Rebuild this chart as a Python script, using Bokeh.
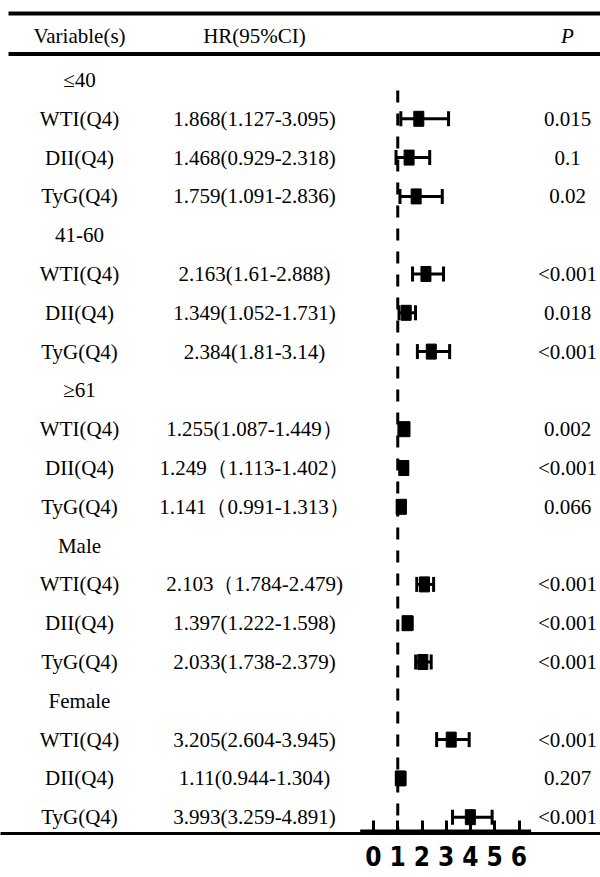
from bokeh.plotting import figure
from bokeh.models import Range1d, LinearAxis, FixedTicker, ColumnDataSource
from bokeh.core.properties import value
from bokeh.embed import file_html
from bokeh.resources import INLINE

# ---------------- data ----------------
groups = ["≤40", "41-60", "≥61", "Male", "Female"]
variables = ["WTI(Q4)", "DII(Q4)", "TyG(Q4)"]

hr = [1.868, 1.468, 1.759,
      2.163, 1.349, 2.384,
      1.255, 1.249, 1.141,
      2.103, 1.397, 2.033,
      3.205, 1.11, 3.993]
ci_low = [1.127, 0.929, 1.091,
          1.61, 1.052, 1.81,
          1.087, 1.113, 0.991,
          1.784, 1.222, 1.738,
          2.604, 0.944, 3.259]
ci_high = [3.095, 2.318, 2.836,
           2.888, 1.731, 3.14,
           1.449, 1.402, 1.313,
           2.479, 1.598, 2.379,
           3.945, 1.304, 4.891]
hr_text = ["1.868(1.127-3.095)", "1.468(0.929-2.318)", "1.759(1.091-2.836)",
           "2.163(1.61-2.888)", "1.349(1.052-1.731)", "2.384(1.81-3.14)",
           "1.255(1.087-1.449）", "1.249（1.113-1.402）", "1.141（0.991-1.313）",
           "2.103（1.784-2.479)", "1.397(1.222-1.598)", "2.033(1.738-2.379)",
           "3.205(2.604-3.945)", "1.11(0.944-1.304)", "3.993(3.259-4.891)"]
p_text = ["0.015", "0.1", "0.02",
          "<0.001", "0.018", "<0.001",
          "0.002", "<0.001", "0.066",
          "<0.001", "<0.001", "<0.001",
          "<0.001", "0.207", "<0.001"]
box_w = [10, 10, 10,
         10, 10, 10,
         12, 10, 10,
         10, 10, 10,
         10, 10, 10]
x_ticks = [0, 1, 2, 3, 4, 5, 6]

# ---------------- layout ----------------
W, H = 600, 877
AXIS_H = 44
FRAME_H = H - AXIS_H
ROW0, ROW_H = 79.5, 38.8
COL_VAR, COL_HR, COL_P = 79, 254, 567
HEAD_Y = 35
SERIF = value("Liberation Serif")
FS = "21px"

# row positions
group_y, var_y, var_lab = [], [], []
row = 0
for g in groups:
    group_y.append(ROW0 + ROW_H * row)
    row += 1
    for v in variables:
        var_y.append(ROW0 + ROW_H * row)
        var_lab.append(v)
        row += 1

p = figure(width=W, height=H, output_backend="svg", toolbar_location=None,
           x_range=Range1d(0, W), y_range=Range1d(FRAME_H, 0),
           x_axis_type=None, y_axis_type=None,
           min_border_left=0, min_border_right=0, min_border_top=0,
           min_border_bottom=AXIS_H)
p.outline_line_color = None
p.background_fill_color = "white"
p.border_fill_color = "white"

# HR scale: 0 at px 373, 24.25 px per unit
PX0, PXU = 373.0, 24.25
p.extra_x_ranges = {"hr": Range1d(-PX0 / PXU, (W - PX0) / PXU)}

# table rules
p.segment(x0=[8, 8], x1=[W, W], y0=[13, 53.5], y1=[13, 53.5],
          line_color="black", line_width=4)

# header
p.text(x=[COL_VAR, COL_HR], y=[HEAD_Y, HEAD_Y], text=["Variable(s)", "HR(95%CI)"],
       text_font=SERIF, text_font_size=FS, text_align="center",
       text_baseline="middle", text_color="black")
p.text(x=[COL_P], y=[HEAD_Y], text=["P"], text_font=SERIF, text_font_size=FS,
       text_font_style="italic", text_align="center", text_baseline="middle",
       text_color="black")

# row labels
p.text(x=[COL_VAR] * len(groups), y=group_y, text=groups, text_font=SERIF,
       text_font_size=FS, text_align="center", text_baseline="middle",
       text_color="black")
p.text(x=[COL_VAR] * len(var_lab), y=var_y, text=var_lab, text_font=SERIF,
       text_font_size=FS, text_align="center", text_baseline="middle",
       text_color="black")
p.text(x=[COL_HR] * len(hr_text), y=var_y, text=hr_text, text_font=SERIF,
       text_font_size=FS, text_align="center", text_baseline="middle",
       text_color="black")
p.text(x=[COL_P] * len(p_text), y=var_y, text=p_text, text_font=SERIF,
       text_font_size=FS, text_align="center", text_baseline="middle",
       text_color="black")

# reference line at HR = 1
p.segment(x0=[1], x1=[1], y0=[90], y1=[FRAME_H], x_range_name="hr",
          line_color="black", line_width=3, line_dash="12 11")

# forest marks
src = ColumnDataSource(dict(hr=hr, lo=ci_low, hi=ci_high, y=var_y,
                            y0=[v - 7.5 for v in var_y], y1=[v + 7.5 for v in var_y],
                            bw=box_w))
p.segment(x0="lo", x1="hi", y0="y", y1="y", source=src, x_range_name="hr",
          line_color="black", line_width=3)
p.segment(x0="lo", x1="lo", y0="y0", y1="y1", source=src, x_range_name="hr",
          line_color="black", line_width=3)
p.segment(x0="hi", x1="hi", y0="y0", y1="y1", source=src, x_range_name="hr",
          line_color="black", line_width=3)
p.rect(x="hr", y="y", width="bw", height=15, width_units="screen",
       height_units="screen", source=src, x_range_name="hr",
       fill_color="black", line_color="black", line_width=1)

# thicker base under axis region
p.segment(x0=[-0.55], x1=[6.5], y0=[FRAME_H - 2], y1=[FRAME_H - 2],
          x_range_name="hr", line_color="black", line_width=4)

ax = LinearAxis(x_range_name="hr", ticker=FixedTicker(ticks=x_ticks),
                major_tick_in=13, major_tick_out=0,
                minor_tick_line_color=None,
                major_tick_line_width=3, major_tick_line_color="black",
                axis_line_width=3, axis_line_color="black",
                major_label_standoff=12,
                major_label_text_font="'Liberation Sans Narrow', 'DejaVu Sans Condensed', sans-serif",
                major_label_text_font_style="bold",
                major_label_text_font_size="26px",
                major_label_text_color="black")
p.add_layout(ax, "below")

open("out.html", "w").write(file_html(p, INLINE))
